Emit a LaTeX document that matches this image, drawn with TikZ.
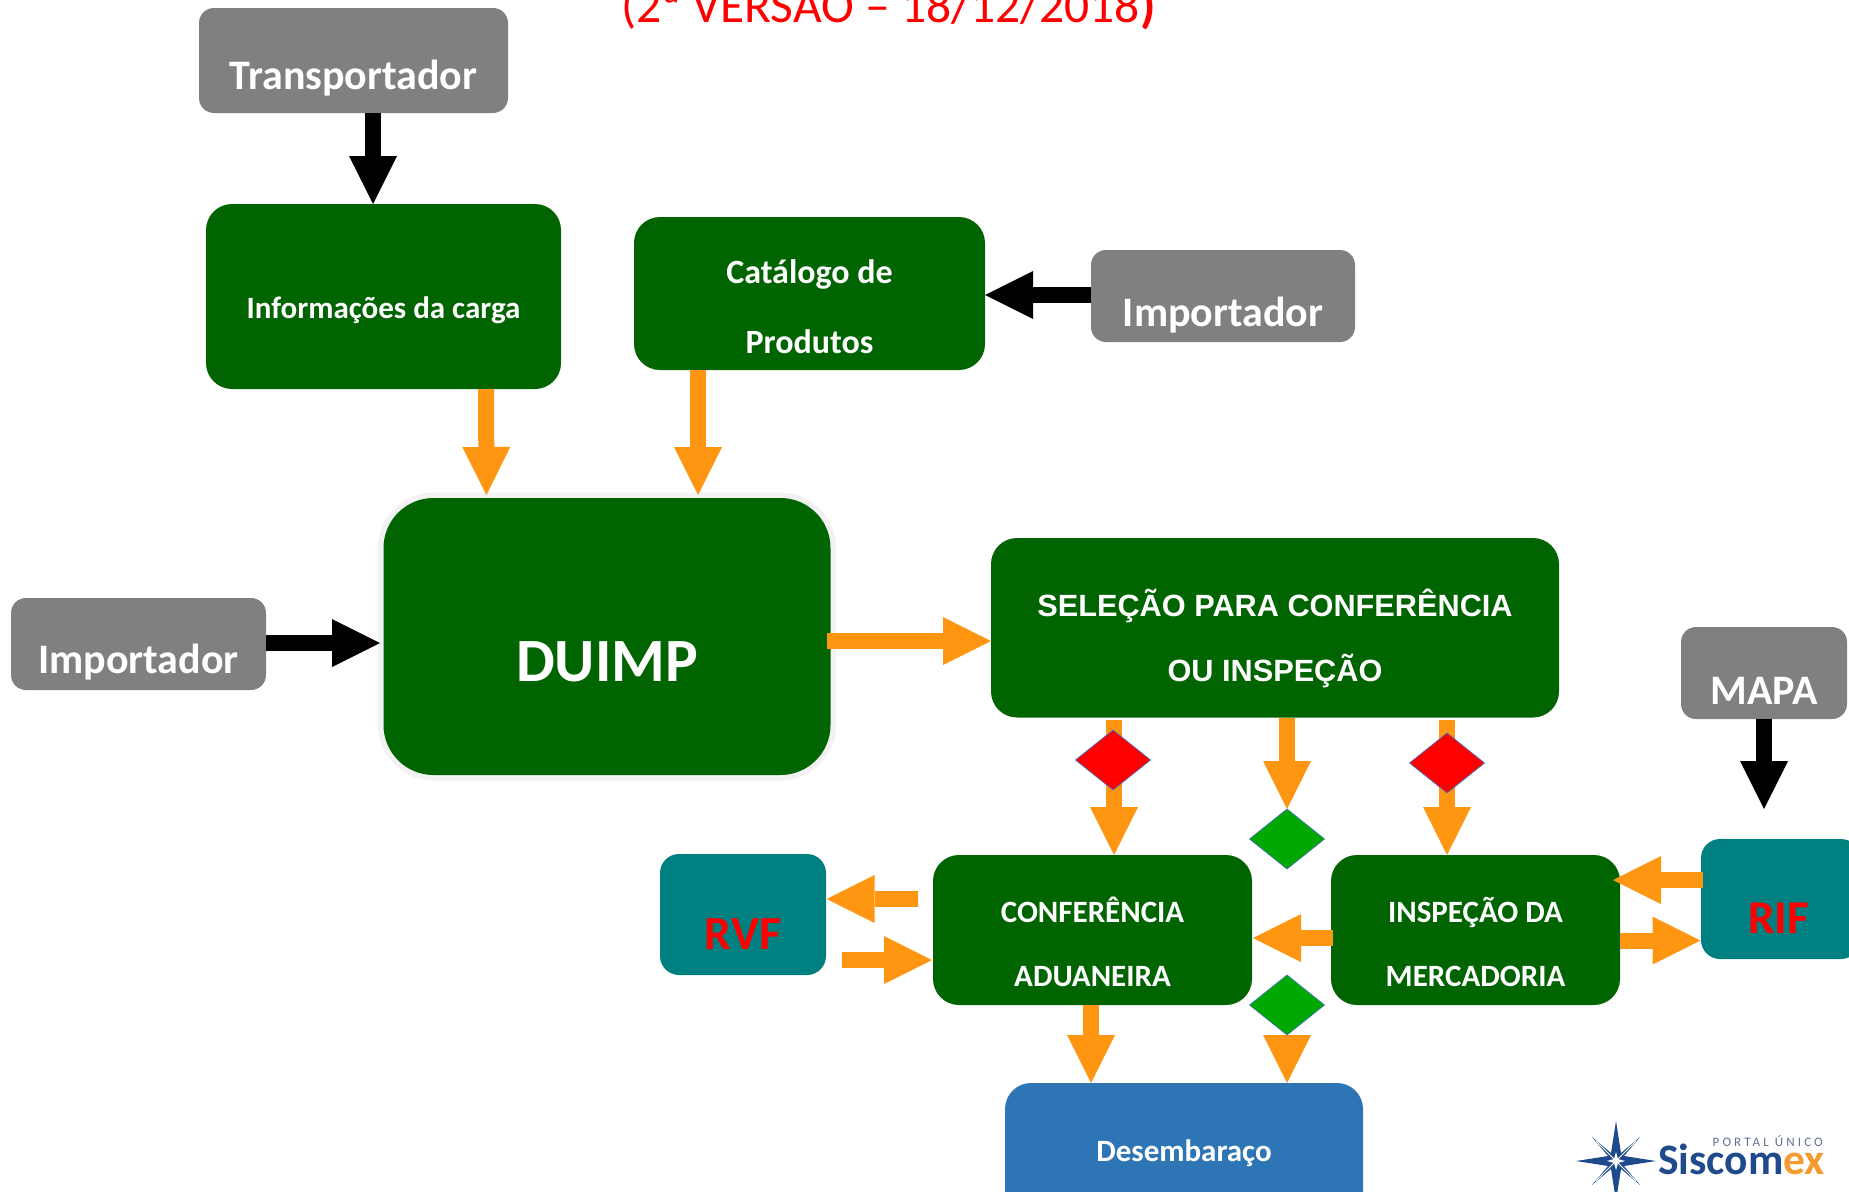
\documentclass[tikz,border=0pt]{standalone}
\usepackage{fontspec}
\setmainfont{Carlito}
\newfontfamily\arialish{Liberation Sans}
\usetikzlibrary{arrows.meta,shapes.geometric}
\definecolor{dgreen}{HTML}{006400}
\definecolor{arrowor}{HTML}{FF9612}
\definecolor{boxgray}{HTML}{808080}
\definecolor{tealbox}{HTML}{008080}
\definecolor{desblue}{HTML}{2E75B6}
\definecolor{halo}{HTML}{F2F2F2}
\definecolor{dgbright}{HTML}{00A800}
\definecolor{dborder}{HTML}{4472C4}
\definecolor{logoblue}{HTML}{1F4A8C}
\definecolor{logoor}{HTML}{F59A2E}
\definecolor{logogray}{HTML}{5F6F8F}
\pgfdeclarelayer{arr}\pgfdeclarelayer{top}
\pgfsetlayers{main,arr,top}
\tikzset{
 boxbase/.style={rectangle,rounded corners=#1,inner sep=0pt,outer sep=0pt},
 gbox/.style={boxbase=26pt,fill=dgreen},
 graybox/.style={boxbase=15pt,fill=boxgray},
 tealb/.style={boxbase=19pt,fill=tealbox},
 whitetxt/.style={text=white,font=\bfseries\fontsize{#1}{#1}\selectfont,align=center},
 redtxt/.style={text=red,font=\bfseries\fontsize{#1}{#1}\selectfont,align=center},
 diam/.style={diamond,aspect=1.25,inner sep=0pt,outer sep=0pt,minimum width=75pt,minimum height=60pt,draw=dborder,line width=0.7pt,fill=#1},
 orarrow/.style={draw=arrowor,line width=16pt,-{Triangle[length=48pt,width=48pt,line width=0pt,color=arrowor]}},
 blackarrow/.style={draw=black,line width=16pt,-{Triangle[length=48pt,width=48pt,line width=0pt,color=black]}},
}
\begin{document}
\begin{tikzpicture}[x=1pt,y=-1pt]
\useasboundingbox (0,0) rectangle (1849,1191);
% title
\node[anchor=base west,inner sep=0pt,text=red,font=\fontsize{49.5}{49.5}\selectfont] (title) at (621,22) {(2ª VERSÃO – 18/12/2018\textbf{)}};
% gray sources
\node[graybox,minimum width=309pt,minimum height=105pt,label={[whitetxt=42,yshift=-18pt]center:Transportador}] (tr) at (353.5,60.5) {};
\node[graybox,minimum width=264pt,minimum height=92pt,label={[whitetxt=42,yshift=-19pt]center:Importador}] (impR) at (1223,296) {};
\node[graybox,minimum width=255pt,minimum height=92pt,label={[whitetxt=42,yshift=-18pt]center:Importador}] (impL) at (138.5,644) {};
\node[graybox,minimum width=166pt,minimum height=92pt,label={[whitetxt=42,yshift=-18pt]center:MAPA}] (mapa) at (1764,673) {};
% green boxes
\node[gbox,minimum width=355pt,minimum height=185pt,label={[whitetxt=31,yshift=-14pt]center:Informações da carga}] (info) at (383.5,296.5) {};
\node[gbox,minimum width=351pt,minimum height=153pt,label={[text=white,font=\bfseries\fontsize{34}{70}\selectfont,align=center,yshift=-13.5pt]center:Catálogo de\\Produtos}] (cat) at (809.5,293.5) {};
\node[boxbase=50pt,fill=dgreen,preaction={draw=halo,line width=11pt},minimum width=447pt,minimum height=277pt,label={[whitetxt=61.5,yshift=-25pt]center:DUIMP}] (duimp) at (607,636.5) {};
\node[gbox,minimum width=568pt,minimum height=179.5pt,label={[text=white,font=\arialish\bfseries\fontsize{30.7}{65}\selectfont,align=center,yshift=-11pt]center:SELEÇÃO PARA CONFERÊNCIA\\OU INSPEÇÃO}] (sel) at (1275,627.75) {};
\node[gbox,minimum width=319pt,minimum height=150pt,label={[text=white,font=\bfseries\fontsize{31}{64}\selectfont,align=center,yshift=-11.5pt]center:CONFERÊNCIA\\ADUANEIRA}] (conf) at (1092.5,930) {};
\node[gbox,minimum width=289pt,minimum height=150pt,label={[text=white,font=\bfseries\fontsize{31}{64}\selectfont,align=center,yshift=-11.5pt]center:INSPEÇÃO DA\\MERCADORIA}] (insp) at (1475.5,930) {};
% teal boxes and clearance
\node[tealb,minimum width=166pt,minimum height=121pt,label={[redtxt=47.5,yshift=-20pt]center:RVF}] (rvf) at (743,914.5) {};
\node[tealb,minimum width=159pt,minimum height=120pt,label={[redtxt=47,xshift=-2pt,yshift=-19pt]center:RIF}] (rif) at (1780.5,899) {};
\node[boxbase=26pt,fill=desblue,minimum width=358pt,minimum height=146pt,label={[whitetxt=31,yshift=2.5pt]center:Desembaraço}] (des) at (1184,1156) {};
% diamonds
\begin{pgfonlayer}{top}
\node[diam=red] (d1) at (1113,760) {};
\node[diam=red] (d3) at (1447,763) {};
\node[diam=dgbright] (d2) at (1287,839) {};
\node[diam=dgbright] (d4) at (1287,1005) {};
\end{pgfonlayer}
% connectors
\begin{pgfonlayer}{arr}
\draw[blackarrow] ([xshift=19.5pt]tr.south) -- ([xshift=-10.5pt]info.north);
\draw[blackarrow] ([yshift=1pt]impR.west) -- ([yshift=-1.5pt]cat.east);
\draw[blackarrow] ([yshift=1pt]impL.east) -- ([xshift=-3.5pt,yshift=-6.5pt]duimp.west);
\draw[blackarrow] (mapa.south) -- ([yshift=30pt,xshift=-16.5pt]rif.north);
\draw[orarrow] ([xshift=102.5pt]info.south) -- ([xshift=-120.5pt,yshift=3pt]duimp.north);
\draw[orarrow] ([xshift=-111.5pt]cat.south) -- ([xshift=91pt,yshift=3pt]duimp.north);
\draw[orarrow] ([xshift=-3.5pt,yshift=-4.5pt]duimp.east) -- ([yshift=-13.25pt]sel.west);
\draw[orarrow] ([xshift=-161pt,yshift=-2pt]sel.south) -- ([xshift=21.5pt]conf.north);
\draw[orarrow] ([xshift=12pt]sel.south) -- (d2.north);
\draw[orarrow] ([xshift=172pt,yshift=-2pt]sel.south) -- ([xshift=-28.5pt]insp.north);
\draw[orarrow] ([xshift=2pt,yshift=-8pt]insp.west) -- ([xshift=1pt,yshift=-8pt]conf.east);
\draw[orarrow] ([xshift=-1.5pt]conf.south) -- ([xshift=-93pt]des.north);
\draw[orarrow] (d4.south) -- ([xshift=103pt]des.north);
\draw[orarrow] ([xshift=2pt,yshift=19pt]rif.west) -- ([xshift=-7pt,yshift=50pt]insp.east);
\draw[orarrow] ([yshift=-10.5pt]insp.east) -- ([xshift=-0.5pt,yshift=-41.5pt]rif.west);
\draw[orarrow] ([xshift=-15.5pt,yshift=31pt]conf.west) -- ([xshift=0.7pt,yshift=15.5pt]rvf.east);
\draw[orarrow] ([xshift=15.7pt,yshift=-45.5pt]rvf.east) -- ([xshift=-1pt,yshift=-30pt]conf.west);
\end{pgfonlayer}
% logo
\begin{scope}[shift={(1616,1161)}]
\fill[logoblue] (0,-40)--(5,-8)--(24,-24)--(8,-5)--(40,0)--(8,5)--(24,24)--(5,8)--(0,40)--(-5,8)--(-24,24)--(-8,5)--(-40,0)--(-8,-5)--(-24,-24)--(-5,-8)--cycle;
\draw[white,line width=1pt] (-20,-20)--(20,20) (-20,20)--(20,-20);
\fill[white] (0,-9)--(2,-2)--(9,0)--(2,2)--(0,9)--(-2,2)--(-9,0)--(-2,-2)--cycle;
\end{scope}
\node[anchor=base west,inner sep=0pt,font=\bfseries\fontsize{43.5}{43.5}\selectfont,text=logoblue] (sis) at (1658,1174) {Siscom\textcolor{logoor}{ex}};
\node[anchor=base east,inner sep=0pt,font=\fontsize{13}{13}\selectfont,text=logogray] (por) at (1823,1146) {\addfontfeature{LetterSpace=24}PORTAL ÚNICO};
\end{tikzpicture}
\end{document}
